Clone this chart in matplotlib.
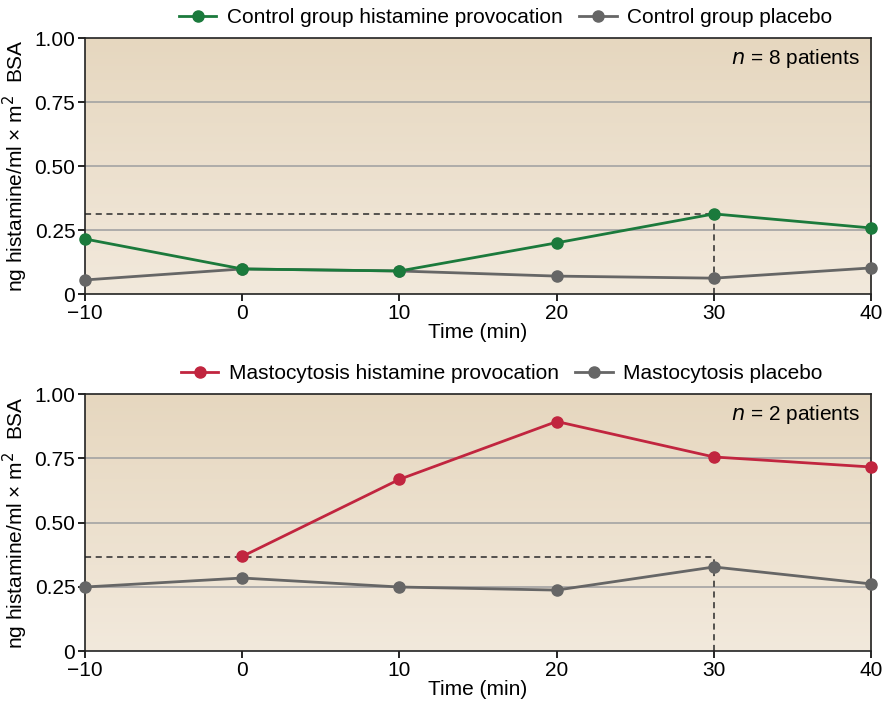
import numpy as np
import matplotlib
matplotlib.use("Agg")
from matplotlib import pyplot as plt
from matplotlib.colors import LinearSegmentedColormap

plt.rcParams['font.family'] = ['Liberation Sans', 'DejaVu Sans']

# data
time = [-10, 0, 10, 20, 30, 40]
ctrl_hist = [0.215, 0.098, 0.090, 0.200, 0.313, 0.258]
ctrl_plac = [0.055, 0.098, 0.090, 0.070, 0.062, 0.102]
masto_time = [0, 10, 20, 30, 40]
masto_hist = [0.368, 0.668, 0.893, 0.755, 0.716]
masto_plac = [0.249, 0.284, 0.249, 0.237, 0.327, 0.261]

ctrl_peak = 0.313
masto_base = 0.365

green = '#1b7a3c'
gray = '#666666'
red = '#c1253f'
bg = LinearSegmentedColormap.from_list('bg', ['#f2e9dc', '#e6d7bf'])
fs = 15

fig = plt.figure(figsize=(8.89, 7.08), dpi=100)
ax1 = fig.add_axes([0.0956, 0.5847, 0.8844, 0.3616])
ax2 = fig.add_axes([0.0956, 0.0805, 0.8844, 0.3630])


def style(ax, ref_y):
    grad = np.linspace(0, 1, 256).reshape(-1, 1)
    ax.imshow(grad, extent=[-10, 40, 0, 1], aspect='auto', cmap=bg,
              origin='lower', zorder=0)
    for g in [0.25, 0.5, 0.75]:
        ax.axhline(g, color='#a3a3a3', lw=1.2, zorder=1)
    ax.plot([-10, 30], [ref_y, ref_y], ls=(0, (4, 3)), color='#2a2a2a', lw=1.1, zorder=2)
    ax.plot([30, 30], [0, ref_y], ls=(0, (4, 3)), color='#2a2a2a', lw=1.1, zorder=2)
    ax.set_xlim(-10, 40)
    ax.set_ylim(0, 1)
    ax.set_xticks(time)
    ax.set_xticklabels(['\u221210', '0', '10', '20', '30', '40'])
    ax.set_yticks([0, 0.25, 0.5, 0.75, 1.0])
    ax.set_yticklabels(['0', '0.25', '0.50', '0.75', '1.00'])
    ax.tick_params(direction='out', length=5, width=1.2, labelsize=fs, pad=2)
    for s in ax.spines.values():
        s.set_linewidth(1.2)
        s.set_color('#222222')
    ax.set_xlabel('Time (min)', fontsize=fs, labelpad=0)
    ax.set_ylabel('ng histamine/ml \u00d7 m$^2$  BSA', fontsize=fs, labelpad=3)


style(ax1, ctrl_peak)
ax1.plot(time, ctrl_plac, '-o', color=gray, lw=2, ms=8, label='Control group placebo', zorder=3, clip_on=False)
ax1.plot(time, ctrl_hist, '-o', color=green, lw=2, ms=8, label='Control group histamine provocation', zorder=4, clip_on=False)
ax1.text(0.985, 0.92, '$n$ = 8 patients', transform=ax1.transAxes, ha='right', va='center', fontsize=fs)
h, l = ax1.get_legend_handles_labels()
ax1.legend(h[::-1], l[::-1], ncol=2, loc='lower center', bbox_to_anchor=(0.535, 1.01),
           frameon=False, fontsize=fs, handlelength=1.8, columnspacing=0.8,
           handletextpad=0.5, borderaxespad=0)

style(ax2, masto_base)
ax2.plot(time, masto_plac, '-o', color=gray, lw=2, ms=8, label='Mastocytosis placebo', zorder=3, clip_on=False)
ax2.plot(masto_time, masto_hist, '-o', color=red, lw=2, ms=8, label='Mastocytosis histamine provocation', zorder=4, clip_on=False)
ax2.text(0.985, 0.92, '$n$ = 2 patients', transform=ax2.transAxes, ha='right', va='center', fontsize=fs)
h, l = ax2.get_legend_handles_labels()
ax2.legend(h[::-1], l[::-1], ncol=2, loc='lower center', bbox_to_anchor=(0.53, 1.01),
           frameon=False, fontsize=fs, handlelength=1.8, columnspacing=0.8,
           handletextpad=0.5, borderaxespad=0)

fig.savefig('out.png', dpi=100)
